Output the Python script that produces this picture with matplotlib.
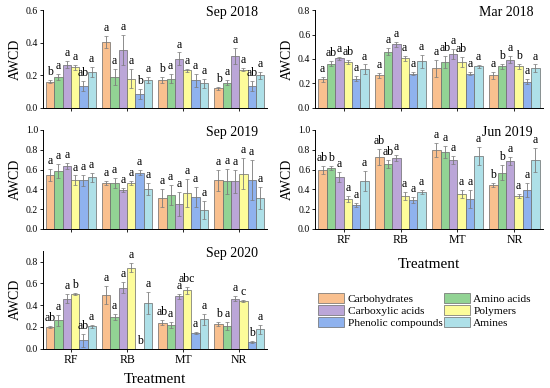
import numpy as np
import matplotlib.pyplot as plt

plt.rcParams['font.family'] = ['Liberation Serif', 'DejaVu Serif']

treatments = ['RF', 'RB', 'MT', 'NR']
groups = ['Carbohydrates', 'Amino acids', 'Carboxylic acids',
          'Polymers', 'Phenolic compounds', 'Amines']
colors = ['#F9C08F', '#92D394', '#BBA6D8', '#FDFC9A', '#8FB2EE', '#AEE0E8']

# rows = treatments, cols = substrate groups
sep2018 = np.array([
    [0.16, 0.19, 0.265, 0.25, 0.135, 0.22],
    [0.405, 0.19, 0.355, 0.18, 0.085, 0.17],
    [0.17, 0.18, 0.30, 0.23, 0.17, 0.15],
    [0.12, 0.155, 0.32, 0.235, 0.135, 0.20]])
sep2018_err = np.array([
    [0.01, 0.02, 0.02, 0.015, 0.03, 0.03],
    [0.035, 0.05, 0.09, 0.06, 0.03, 0.02],
    [0.02, 0.03, 0.04, 0.01, 0.04, 0.03],
    [0.01, 0.015, 0.05, 0.01, 0.03, 0.02]])
sep2018_let = [['b', 'a', 'a', 'a', 'ab', 'a'],
               ['a', 'a', 'a', 'a', 'b', 'a'],
               ['b', 'a', 'a', 'a', 'a', 'a'],
               ['b', 'a', 'a', 'a', 'ab', 'a']]

mar2018 = np.array([
    [0.235, 0.36, 0.405, 0.375, 0.24, 0.315],
    [0.265, 0.46, 0.52, 0.405, 0.28, 0.38],
    [0.325, 0.375, 0.44, 0.375, 0.28, 0.34],
    [0.265, 0.34, 0.395, 0.34, 0.215, 0.325]])
mar2018_err = np.array([
    [0.02, 0.02, 0.015, 0.02, 0.02, 0.04],
    [0.02, 0.03, 0.02, 0.02, 0.01, 0.05],
    [0.07, 0.05, 0.04, 0.04, 0.01, 0.01],
    [0.03, 0.02, 0.03, 0.02, 0.02, 0.03]])
mar2018_let = [['a', 'ab', 'a', 'ab', 'a', 'a'],
               ['a', 'a', 'a', 'a', 'a', 'a'],
               ['a', 'ab', 'a', 'ab', 'a', 'a'],
               ['a', 'b', 'a', 'b', 'a', 'a']]

sep2019 = np.array([
    [0.545, 0.585, 0.635, 0.49, 0.49, 0.52],
    [0.465, 0.465, 0.39, 0.46, 0.57, 0.40],
    [0.31, 0.345, 0.255, 0.365, 0.325, 0.195],
    [0.49, 0.48, 0.48, 0.56, 0.495, 0.315]])
sep2019_err = np.array([
    [0.06, 0.07, 0.03, 0.05, 0.06, 0.05],
    [0.02, 0.05, 0.02, 0.02, 0.03, 0.06],
    [0.09, 0.10, 0.12, 0.14, 0.10, 0.09],
    [0.11, 0.13, 0.12, 0.16, 0.20, 0.11]])
sep2019_let = [['a'] * 6 for _ in range(4)]

jun2019 = np.array([
    [0.60, 0.62, 0.525, 0.30, 0.245, 0.485],
    [0.725, 0.655, 0.72, 0.33, 0.29, 0.37],
    [0.795, 0.78, 0.70, 0.35, 0.305, 0.735],
    [0.44, 0.57, 0.685, 0.335, 0.395, 0.695]])
jun2019_err = np.array([
    [0.04, 0.02, 0.05, 0.03, 0.02, 0.10],
    [0.08, 0.04, 0.03, 0.04, 0.03, 0.02],
    [0.07, 0.06, 0.04, 0.04, 0.09, 0.09],
    [0.02, 0.08, 0.04, 0.02, 0.07, 0.12]])
jun2019_let = [['ab', 'b', 'a', 'a', 'a', 'a'],
               ['ab', 'ab', 'a', 'a', 'a', 'a'],
               ['a', 'a', 'a', 'a', 'a', 'a'],
               ['b', 'b', 'a', 'a', 'a', 'a']]

sep2020 = np.array([
    [0.20, 0.26, 0.46, 0.50, 0.08, 0.205],
    [0.495, 0.29, 0.56, 0.745, 0.0, 0.42],
    [0.24, 0.22, 0.48, 0.535, 0.145, 0.27],
    [0.23, 0.21, 0.46, 0.44, 0.06, 0.18]])
sep2020_err = np.array([
    [0.01, 0.05, 0.04, 0.01, 0.06, 0.01],
    [0.08, 0.03, 0.05, 0.04, 0.0, 0.10],
    [0.02, 0.03, 0.02, 0.03, 0.01, 0.05],
    [0.02, 0.04, 0.02, 0.01, 0.01, 0.04]])
sep2020_let = [['ab', 'a', 'a', 'b', 'ab', 'a'],
               ['a', 'a', 'a', 'a', 'b', 'a'],
               ['ab', 'a', 'a', 'abc', 'a', 'a'],
               ['b', 'a', 'a', 'c', 'b', 'a']]

fig = plt.figure(figsize=(5.5, 3.88), dpi=100)

W = 0.148
x = np.arange(len(treatments))


def panel(rect, vals, errs, lets, title, ymax, yticks, xlabels):
    ax = fig.add_axes(rect)
    for j in range(len(groups)):
        pos = x + (j - 2.5) * W
        ax.bar(pos, vals[:, j], W, color=colors[j], edgecolor='#6a6a6a',
               linewidth=0.5, label=groups[j])
        ax.errorbar(pos, vals[:, j], yerr=errs[:, j], fmt='none',
                    ecolor='#7a7a7a', elinewidth=0.6, capsize=1.2, capthick=0.5)
        for i in range(len(treatments)):
            ax.text(pos[i], vals[i, j] + errs[i, j] + ymax * 0.02, lets[i][j],
                    ha='center', va='bottom', fontsize=8.5)
    ax.set_xlim(-0.5, 3.5)
    ax.set_ylim(0, ymax)
    ax.set_yticks(yticks)
    ax.set_yticklabels(['%.1f' % t for t in yticks], fontsize=7)
    ax.set_xticks(x)
    if xlabels:
        ax.set_xticklabels(treatments, fontsize=8.5)
    else:
        ax.set_xticklabels([])
    ax.tick_params(axis='y', length=2, width=0.6, pad=1.5)
    ax.tick_params(axis='x', length=2, width=0.6, pad=2)
    for s in ['top', 'right']:
        ax.spines[s].set_visible(False)
    for s in ['left', 'bottom']:
        ax.spines[s].set_linewidth(0.7)
    ax.set_ylabel('AWCD', fontsize=10, labelpad=3)
    ax.text(0.957, 0.975, title, transform=ax.transAxes, ha='right',
            va='center', fontsize=10)
    return ax


ax1 = panel([0.078, 0.722, 0.408, 0.252], sep2018, sep2018_err, sep2018_let,
            'Sep 2018', 0.6, [0, 0.2, 0.4, 0.6], False)
ax2 = panel([0.573, 0.722, 0.414, 0.252], mar2018, mar2018_err, mar2018_let,
            'Mar 2018', 0.8, [0, 0.2, 0.4, 0.6, 0.8], False)
ax3 = panel([0.078, 0.410, 0.408, 0.255], sep2019, sep2019_err, sep2019_let,
            'Sep 2019', 1.0, [0, 0.2, 0.4, 0.6, 0.8, 1.0], False)
ax4 = panel([0.573, 0.410, 0.414, 0.255], jun2019, jun2019_err, jun2019_let,
            'Jun 2019', 1.0, [0, 0.2, 0.4, 0.6, 0.8, 1.0], True)
ax5 = panel([0.078, 0.101, 0.408, 0.253], sep2020, sep2020_err, sep2020_let,
            'Sep 2020', 0.9, [0, 0.2, 0.4, 0.6, 0.8], True)
ax4.set_xlabel('Treatment', fontsize=11, labelpad=8)
ax5.set_xlabel('Treatment', fontsize=11, labelpad=5)

handles, labels = ax1.get_legend_handles_labels()
order = [0, 2, 4, 1, 3, 5]
fig.legend([handles[k] for k in order], [labels[k] for k in order],
           loc='upper left', bbox_to_anchor=(0.56, 0.27), ncol=2,
           frameon=False, fontsize=8.2, handlelength=2.3, handleheight=0.95,
           columnspacing=0.1, labelspacing=0.1, handletextpad=0.3)

fig.savefig('out.png', dpi=100)
